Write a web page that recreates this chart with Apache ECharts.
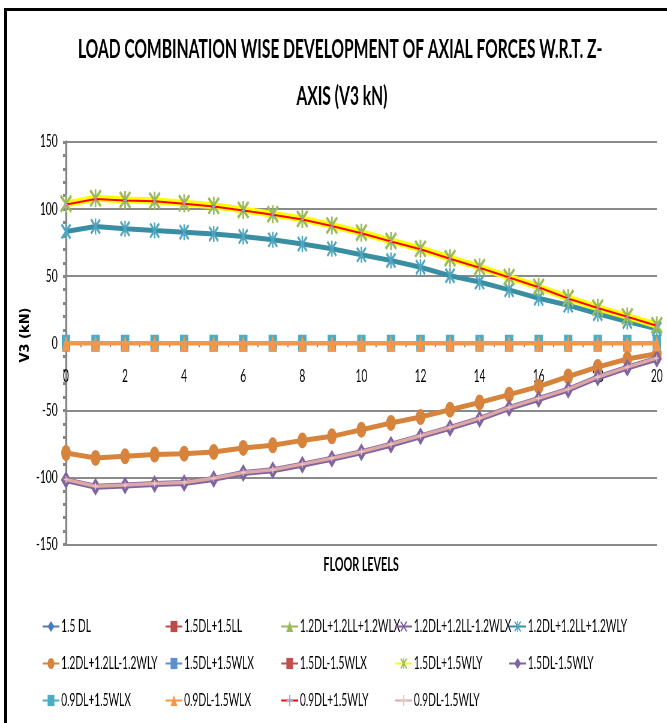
<!DOCTYPE html>
<html>
<head>
<meta charset="utf-8">
<script src="https://cdn.jsdelivr.net/npm/echarts@6/dist/echarts.min.js"></script>
<style>
  html, body { margin: 0; padding: 0; background: #fff; overflow: hidden; width: 667px; height: 723px; }
  /* chart is laid out wide and compressed horizontally */
  #chart { position: absolute; left: 0; top: 0; width: 1112px; height: 723px; transform: scaleX(0.59982); transform-origin: 0 0; }
  #frame { position: absolute; left: 4px; top: 8px; width: 720px; height: 760px; border-left: 3px solid #000; border-top: 3px solid #000; box-sizing: border-box; pointer-events: none; }
</style>
</head>
<body>
<div id="chart"></div>
<div id="frame"></div>
<script>
// Floor levels along the x axis
const floors = [0, 1, 2, 3, 4, 5, 6, 7, 8, 9, 10, 11, 12, 13, 14, 15, 16, 17, 18, 19, 20];
const xTicks = [0, 2, 4, 6, 8, 10, 12, 14, 16, 18, 20];
const yTicks = [-150, -100, -50, 0, 50, 100, 150];

// V3 shear (kN) per load combination, one value per floor level
const v15DL       = [0, 0, 0, 0, 0, 0, 0, 0, 0, 0, 0, 0, 0, 0, 0, 0, 0, 0, 0, 0, 0];
const v15DL15LL   = [0, 0, 0, 0, 0, 0, 0, 0, 0, 0, 0, 0, 0, 0, 0, 0, 0, 0, 0, 0, 0];
const v12LLpWLX   = [0, 0, 0, 0, 0, 0, 0, 0, 0, 0, 0, 0, 0, 0, 0, 0, 0, 0, 0, 0, 0];
const v12LLmWLX   = [0, 0, 0, 0, 0, 0, 0, 0, 0, 0, 0, 0, 0, 0, 0, 0, 0, 0, 0, 0, 0];
const v12LLpWLY   = [83.3, 87.0, 85.3, 84.0, 82.8, 81.5, 79.5, 77.1, 73.9, 70.4, 65.9, 61.7, 56.7, 50.3, 45.6, 39.8, 33.6, 28.3, 22.0, 16.2, 10.7];
const v12LLmWLY   = [-81.8, -85.5, -84.3, -83.0, -82.3, -81.0, -78.0, -76.1, -72.4, -69.4, -64.4, -59.4, -55.0, -49.5, -44.1, -38.3, -32.2, -24.8, -17.7, -11.8, -7.8];
const v15DLpWLX   = [0, 0, 0, 0, 0, 0, 0, 0, 0, 0, 0, 0, 0, 0, 0, 0, 0, 0, 0, 0, 0];
const v15DLmWLX   = [0, 0, 0, 0, 0, 0, 0, 0, 0, 0, 0, 0, 0, 0, 0, 0, 0, 0, 0, 0, 0];
const v15DLpWLY   = [103.9, 108.0, 106.8, 106.3, 104.4, 102.4, 99.4, 96.2, 92.7, 87.8, 82.4, 76.3, 70.4, 63.4, 56.7, 49.3, 42.0, 33.7, 26.5, 20.0, 13.4];
const v15DLmWLY   = [-102.0, -107.0, -106.1, -104.9, -104.1, -101.1, -96.7, -94.7, -90.5, -86.1, -81.2, -75.6, -69.4, -63.1, -56.4, -48.3, -41.5, -34.6, -25.5, -18.2, -11.5];
const v09DLpWLX   = [0, 0, 0, 0, 0, 0, 0, 0, 0, 0, 0, 0, 0, 0, 0, 0, 0, 0, 0, 0, 0];
const v09DLmWLX   = [0, 0, 0, 0, 0, 0, 0, 0, 0, 0, 0, 0, 0, 0, 0, 0, 0, 0, 0, 0, 0];
const v09DLpWLY   = [103.5, 107.6, 106.4, 105.9, 104.0, 102.0, 99.0, 95.8, 92.3, 87.4, 82.0, 75.9, 70.0, 63.0, 56.3, 49.0, 41.7, 33.4, 26.2, 19.7, 13.1];
const v09DLmWLY   = [-101.6, -106.6, -105.7, -104.5, -103.7, -100.7, -96.3, -94.3, -90.1, -85.7, -80.8, -75.2, -69.0, -62.7, -56.0, -47.9, -41.1, -34.2, -25.1, -17.8, -11.1];

const SQ = 0.59982; // horizontal compression applied to the chart element
const GRID_TOP = 142, GRID_BOTTOM = 178.5, CHART_H = 723;

// marker shapes
const ASTERISK = 'path://M0 1.2L1.2 0L5 3.8L8.8 0L10 1.2L6.2 5L10 8.8L8.8 10L5 6.2L1.2 10L0 8.8L3.8 5Z M4.3 0H5.7V10H4.3Z';
const CROSS_X  = 'path://M0 1.2L1.2 0L5 3.8L8.8 0L10 1.2L6.2 5L10 8.8L8.8 10L5 6.2L1.2 10L0 8.8L3.8 5Z';
const PLUS     = 'path://M4 0H6V10H4Z M0 4H10V6H0Z';
const THINPLUS = 'path://M4.5 0H5.5V10H4.5Z';
const DASH     = 'path://M0 4H10V6H0Z';

const FONT = 'Lato, "Open Sans", sans-serif';

function line(name, data, color, width, symbol, size, symColor, z) {
  return {
    name: name,
    type: 'line',
    data: floors.map((f, i) => [f, data[i]]),
    z: z,
    lineStyle: { color: color, width: width },
    itemStyle: { color: symColor || color, borderWidth: 0 },
    symbol: symbol,
    symbolSize: size,
    showSymbol: symbol !== 'none',
    smooth: false,
    animation: false,
    emphasis: { disabled: true }
  };
}

const series = [
  line('1.5 DL',             v15DL,     '#4A7EBB', 3, 'diamond', [12, 14], null, 2),
  line('1.5DL+1.5LL',        v15DL15LL, '#BE4B48', 3, 'rect', [12, 11], null, 3),
  line('1.2DL+1.2LL+1.2WLX', v12LLpWLX, '#98B954', 3, 'triangle', [12, 12], null, 4),
  line('1.2DL+1.2LL-1.2WLX', v12LLmWLX, '#7D60A0', 3, CROSS_X, [12, 12], null, 5),
  line('1.2DL+1.2LL+1.2WLY', v12LLpWLY, '#3A8EA4', 5, ASTERISK, [17, 16], '#4FA6C0', 6),
  line('1.2DL+1.2LL-1.2WLY', v12LLmWLY, '#D7833B', 5, 'circle', [16, 16], '#D7833B', 7),
  line('1.5DL+1.5WLX',       v15DLpWLX, '#5A8FD0', 3, THINPLUS, [8, 14], null, 8),
  line('1.5DL-1.5WLX',       v15DLmWLX, '#C0504D', 3, DASH, [12, 12], null, 9),
  line('1.5DL+1.5WLY',       v15DLpWLY, '#FFFF00', 7, ASTERISK, [20, 18], '#9BBB59', 10),
  line('1.5DL-1.5WLY',       v15DLmWLY, '#8064A2', 6, 'diamond', [17, 18], '#8064A2', 11),
  line('0.9DL+1.5WLX',       v09DLpWLX, '#4BACC6', 3, 'rect', [14, 17], '#4BACC6', 12),
  line('0.9DL-1.5WLX',       v09DLmWLX, '#F79646', 4.5, 'triangle', [14, 16], '#F79646', 13),
  line('0.9DL+1.5WLY',       v09DLpWLY, '#FF0000', 2, PLUS, [6, 5], '#A9A9CF', 14),
  line('0.9DL-1.5WLY',       v09DLmWLY, '#DDA8A4', 3.5, PLUS, [8, 7], '#EBC6C3', 15)
];

// legend: five columns, three rows
const legendCols = [70, 275, 468, 658, 848];
const legendRows = [618, 655, 692];
const legends = series.map((s, i) => ({
  data: [s.name],
  left: legendCols[i % 5],
  top: legendRows[Math.floor(i / 5)],
  itemWidth: 28,
  itemHeight: 14,
  itemGap: 0,
  padding: 0,
  selectedMode: false,
  textStyle: { fontFamily: FONT, fontSize: 17, color: '#000', padding: [0, 0, 0, -2] }
}));

// the floor axis sits on the zero line, partway up the plot
const plotH = CHART_H - GRID_TOP - GRID_BOTTOM;
const zeroOffset = -plotH * (0 - yTicks[0]) / (yTicks[yTicks.length - 1] - yTicks[0]);

const chart = echarts.init(document.getElementById('chart'), null, { renderer: 'canvas' });
chart.setOption({
  backgroundColor: '#fff',
  animation: false,
  grid: { left: 110, right: 17, top: GRID_TOP, bottom: GRID_BOTTOM, containLabel: false },
  xAxis: {
    type: 'value',
    min: xTicks[0],
    max: xTicks[xTicks.length - 1],
    interval: xTicks[1] - xTicks[0],
    position: 'bottom',
    offset: zeroOffset,
    axisLine: { show: true, onZero: false, lineStyle: { color: '#868686', width: 2 } },
    axisTick: { show: true, length: 4, lineStyle: { color: '#868686', width: 2 } },
    minorTick: { show: true, splitNumber: 4, length: 4, lineStyle: { color: '#868686', width: 2 } },
    splitLine: { show: false },
    axisLabel: { fontFamily: FONT, fontSize: 17, color: '#000', margin: 25 }
  },
  yAxis: {
    type: 'value',
    min: yTicks[0],
    max: yTicks[yTicks.length - 1],
    interval: yTicks[1] - yTicks[0],
    axisLine: { show: true, onZero: false, lineStyle: { color: '#868686', width: 3.3 } },
    axisTick: { show: true, length: 5, lineStyle: { color: '#868686', width: 3 } },
    minorTick: { show: true, splitNumber: 5, length: 5, lineStyle: { color: '#868686', width: 3 } },
    splitLine: { show: true, lineStyle: { color: '#8A8A8A', width: 2 } },
    axisLabel: { fontFamily: FONT, fontSize: 17, color: '#000', margin: 14 }
  },
  legend: legends,
  graphic: [
    { type: 'text', x: 567, y: 50, silent: true,
      style: { text: 'LOAD COMBINATION WISE DEVELOPMENT OF AXIAL FORCES W.R.T. Z-', font: 'bold 26px ' + FONT, fill: '#000',
               textAlign: 'center', textVerticalAlign: 'middle', align: 'center', verticalAlign: 'middle' } },
    { type: 'text', x: 570, y: 97, silent: true,
      style: { text: 'AXIS (V3 kN)', font: 'bold 26px ' + FONT, fill: '#000',
               textAlign: 'center', textVerticalAlign: 'middle', align: 'center', verticalAlign: 'middle' } },
    { type: 'text', x: 602, y: 565, silent: true,
      style: { text: 'FLOOR LEVELS', font: 'bold 18px ' + FONT, fill: '#000',
               textAlign: 'center', textVerticalAlign: 'middle', align: 'center', verticalAlign: 'middle' } },
    { type: 'text', x: 42, y: 335, rotation: Math.PI / 2, scaleY: 1 / SQ, silent: true,
      style: { text: 'V3 (kN)', font: 'bold 13px "DejaVu Sans", Verdana, sans-serif', fill: '#000',
               textAlign: 'center', textVerticalAlign: 'middle', align: 'center', verticalAlign: 'middle' } }
  ],
  series: series
});
</script>
</body>
</html>
